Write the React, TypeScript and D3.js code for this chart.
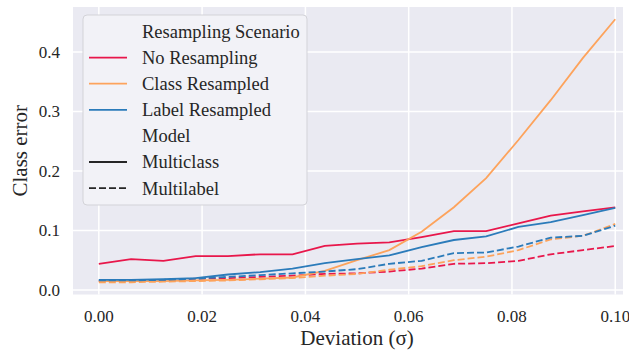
import React, { useEffect, useRef } from "react";
import * as d3 from "d3";

// deviation (sigma) values on the x axis
const deviation = [
  0, 0.00625, 0.0125, 0.01875, 0.025, 0.03125, 0.0375, 0.04375, 0.05,
  0.05625, 0.0625, 0.06875, 0.075, 0.08125, 0.0875, 0.09375, 0.1,
];

const scenarios = ["No Resampling", "Class Resampled", "Label Resampled"];
const models = ["Multiclass", "Multilabel"];

const noResamplingMulticlass = [
  0.044, 0.052, 0.049, 0.057, 0.057, 0.06, 0.06, 0.074, 0.078, 0.08, 0.089,
  0.099, 0.099, 0.112, 0.125, 0.132, 0.139,
];
const noResamplingMultilabel = [
  0.015, 0.015, 0.016, 0.019, 0.02, 0.022, 0.024, 0.027, 0.028, 0.031, 0.036,
  0.044, 0.045, 0.049, 0.06, 0.067, 0.074,
];
const classResampledMulticlass = [
  0.015, 0.015, 0.015, 0.016, 0.017, 0.019, 0.021, 0.032, 0.05, 0.067, 0.098,
  0.139, 0.188, 0.252, 0.319, 0.39, 0.455,
];
const classResampledMultilabel = [
  0.013, 0.013, 0.014, 0.015, 0.016, 0.018, 0.02, 0.024, 0.027, 0.034, 0.04,
  0.05, 0.056, 0.067, 0.085, 0.091, 0.111,
];
const labelResampledMulticlass = [
  0.017, 0.017, 0.018, 0.02, 0.026, 0.03, 0.036, 0.045, 0.052, 0.058, 0.072,
  0.084, 0.09, 0.106, 0.114, 0.126, 0.138,
];
const labelResampledMultilabel = [
  0.016, 0.016, 0.017, 0.019, 0.022, 0.025, 0.028, 0.031, 0.035, 0.044, 0.049,
  0.062, 0.063, 0.073, 0.088, 0.091, 0.108,
];

const xTicks = [0, 0.02, 0.04, 0.06, 0.08, 0.1];
const yTicks = [0, 0.1, 0.2, 0.3, 0.4];

const colors = { "No Resampling": "#e8174b", "Class Resampled": "#fda35c", "Label Resampled": "#2b7bba" };

const FONT = "'Liberation Serif', 'Times New Roman', serif";

const App = () => {
  const svgRef = useRef<SVGSVGElement>(null);

  useEffect(() => {
    const svg = d3.select(svgRef.current);
    svg.selectAll("*").remove();

    const left = 73;
    const right = 623;
    const top = 7;
    const bottom = 294.5;

    const x = d3.scaleLinear().domain([-0.005, 0.1015]).range([left, right]);
    const y = d3.scaleLinear().domain([-0.0076, 0.4756]).range([bottom, top]);

    svg
      .append("rect")
      .attr("x", left)
      .attr("y", top)
      .attr("width", right - left)
      .attr("height", bottom - top)
      .attr("fill", "#eaeaf2");

    svg
      .append("g")
      .selectAll("line")
      .data(xTicks)
      .enter()
      .append("line")
      .attr("x1", (d) => x(d))
      .attr("x2", (d) => x(d))
      .attr("y1", top)
      .attr("y2", bottom)
      .attr("stroke", "white")
      .attr("stroke-width", 1.5);

    svg
      .append("g")
      .selectAll("line")
      .data(yTicks)
      .enter()
      .append("line")
      .attr("x1", left)
      .attr("x2", right)
      .attr("y1", (d) => y(d))
      .attr("y2", (d) => y(d))
      .attr("stroke", "white")
      .attr("stroke-width", 1.5);

    svg
      .append("g")
      .selectAll("text")
      .data(xTicks)
      .enter()
      .append("text")
      .attr("x", (d) => x(d))
      .attr("y", 322)
      .attr("text-anchor", "middle")
      .style("font-family", FONT)
      .style("font-size", "17px")
      .attr("fill", "#262626")
      .text((d) => d3.format(".2f")(d));

    svg
      .append("g")
      .selectAll("text")
      .data(yTicks)
      .enter()
      .append("text")
      .attr("x", 60)
      .attr("y", (d) => y(d))
      .attr("dy", "0.35em")
      .attr("text-anchor", "end")
      .style("font-family", FONT)
      .style("font-size", "17px")
      .attr("fill", "#262626")
      .text((d) => d3.format(".1f")(d));

    // axis title sits centred on the full (uncropped) axes width
    svg
      .append("text")
      .attr("x", x(0.05))
      .attr("y", 345)
      .attr("text-anchor", "middle")
      .style("font-family", FONT)
      .style("font-size", "21px")
      .attr("fill", "#262626")
      .text("Deviation (σ)");

    svg
      .append("text")
      .attr("transform", `translate(27, ${(top + bottom) / 2}) rotate(-90)`)
      .attr("text-anchor", "middle")
      .style("font-family", FONT)
      .style("font-size", "21px")
      .attr("fill", "#262626")
      .text("Class error");

    const series = [
      { scenario: "No Resampling", model: "Multiclass", values: noResamplingMulticlass },
      { scenario: "No Resampling", model: "Multilabel", values: noResamplingMultilabel },
      { scenario: "Class Resampled", model: "Multiclass", values: classResampledMulticlass },
      { scenario: "Class Resampled", model: "Multilabel", values: classResampledMultilabel },
      { scenario: "Label Resampled", model: "Multiclass", values: labelResampledMulticlass },
      { scenario: "Label Resampled", model: "Multilabel", values: labelResampledMultilabel },
    ];

    const line = d3
      .line<number>()
      .x((_, i) => x(deviation[i]))
      .y((d) => y(d));

    svg
      .append("g")
      .selectAll("path")
      .data(series)
      .enter()
      .append("path")
      .attr("d", (d) => line(d.values))
      .attr("fill", "none")
      .attr("stroke", (d) => colors[d.scenario])
      .attr("stroke-width", 1.8)
      .attr("stroke-dasharray", (d) => (d.model === "Multilabel" ? "7,3" : null));

    // legend
    const legend = svg.append("g");
    legend
      .append("rect")
      .attr("x", 83)
      .attr("y", 15)
      .attr("width", 224)
      .attr("height", 190)
      .attr("rx", 4)
      .attr("fill", "#f2f2f7")
      .attr("stroke", "#d3d3d8")
      .attr("stroke-width", 1);

    const entries = [
      { label: "Resampling Scenario", color: null, dash: null },
      ...scenarios.map((s) => ({ label: s, color: colors[s], dash: null })),
      { label: "Model", color: null, dash: null },
      ...models.map((m) => ({ label: m, color: "#262626", dash: m === "Multilabel" ? "7,3" : null })),
    ];

    const rows = legend
      .selectAll(".legend")
      .data(entries)
      .enter()
      .append("g")
      .attr("class", "legend")
      .attr("transform", (_, i) => `translate(0, ${31.5 + i * 26.1})`);

    rows
      .filter((d) => d.color !== null)
      .append("line")
      .attr("x1", 89)
      .attr("x2", 127)
      .attr("stroke", (d) => d.color)
      .attr("stroke-width", 1.8)
      .attr("stroke-dasharray", (d) => d.dash);

    rows
      .append("text")
      .attr("x", 142)
      .attr("dy", "0.35em")
      .style("font-family", FONT)
      .style("font-size", "18.5px")
      .attr("fill", "#262626")
      .text((d) => d.label);
  }, []);

  return (
    <svg
      ref={svgRef}
      width={629}
      height={351}
      style={{ position: "absolute", left: 0, top: 0, background: "white" }}
    ></svg>
  );
};

export default App;
